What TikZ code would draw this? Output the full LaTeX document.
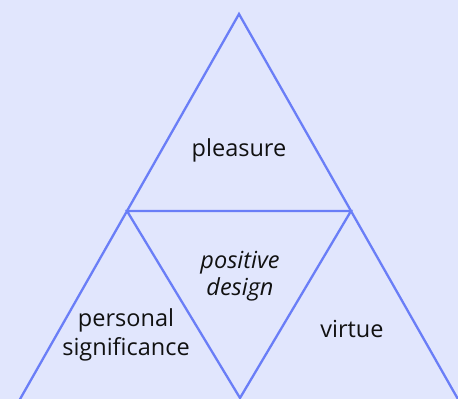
\documentclass[tikz,border=0pt]{standalone}
\usepackage{fontspec}
\setmainfont{Open Sans}
\usetikzlibrary{calc}
\definecolor{bgc}{HTML}{E1E6FD}
\definecolor{edgec}{HTML}{6A7EF7}
\definecolor{txtc}{HTML}{111111}
\begin{document}
\begin{tikzpicture}[x=1pt,y=1pt,
  edge/.style={draw=edgec,line width=2.3pt,line join=miter},
  lbl/.style={text=txtc,font=\fontsize{23.5}{29}\selectfont,align=center,inner sep=0pt}]
\fill[bgc] (0,0) rectangle (458,399);
\useasboundingbox (0,0) rectangle (458,399);
\coordinate (apex) at (239,385);
\coordinate (ml) at (127,188);
\coordinate (mr) at (351,188);
\coordinate (ib) at (240,1);
\coordinate (bl) at ($(apex)!2.05!(ml)$);
\coordinate (br) at ($(apex)!2.05!(mr)$);
\begin{scope}
\clip (0,0) rectangle (458,399);
\draw[edge] (bl) -- (apex) -- (br);
\draw[edge] (ml) -- (mr) -- (ib) -- cycle;
\end{scope}
\node[lbl] (pleasure) at (239,249) {pleasure};
\node[lbl,font=\fontsize{23.5}{27}\selectfont\itshape] (pos) at (240,123) {positive\\design};
\node[lbl] (pers) at (126,64) {personal\\significance};
\node[lbl] (virtue) at (352,70) {virtue};
\end{tikzpicture}
\end{document}
